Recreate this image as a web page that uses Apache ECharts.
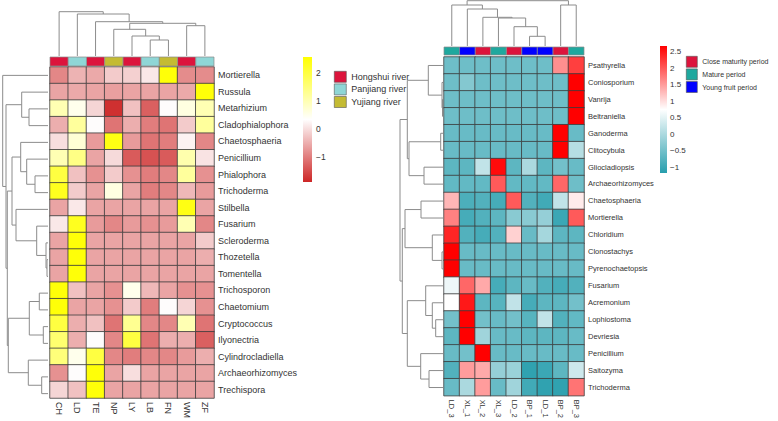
<!DOCTYPE html>
<html><head><meta charset="utf-8">
<script src="https://cdn.jsdelivr.net/npm/echarts@6/dist/echarts.min.js"></script>
<style>html,body{margin:0;padding:0;background:#fff}#c{width:778px;height:421px}</style>
</head><body><div id="c"></div>
<script>
// ---------- LEFT HEATMAP DATA ----------
const leftCols = ['CH','LD','TE','NP','LY','LB','FN','WM','ZF'];
const leftRows = ['Mortierella','Russula','Metarhizium','Cladophialophora','Chaetosphaeria','Penicillium','Phialophora','Trichoderma','Stilbella','Fusarium','Scleroderma','Thozetella','Tomentella','Trichosporon','Chaetomium','Cryptococcus','Ilyonectria','Cylindrocladiella','Archaeorhizomyces','Trechispora'];
const leftGroupNames = ['Hongshui river','Panjiang river','Yujiang river'];
const leftGroupColors = ['#DC143C','#8FD6D6','#C4BB33'];
const leftColGroups = ['Hongshui river','Panjiang river','Hongshui river','Yujiang river','Hongshui river','Panjiang river','Yujiang river','Hongshui river','Panjiang river'];
const leftValues = [
  [-0.9,-0.45,-0.55,-0.2,-0.15,0.1,2.5,-0.85,-0.85],
  [-0.6,-0.55,-0.6,-0.65,-0.6,-0.6,-0.6,-0.55,2.5],
  [1.0,0.5,-0.1,-1.8,-0.3,-1.3,0.3,0.6,1.0],
  [-0.5,1.2,0.3,-1.1,-0.5,-1.0,-1.1,-0.2,1.2],
  [0.0,0.7,-0.7,2.4,-0.7,-1.1,-1.0,0.2,-0.9],
  [1.0,1.4,-0.6,-0.05,-1.35,-1.45,-1.35,1.05,0.05],
  [2.0,-0.3,-0.8,-0.2,-0.8,-1.0,-0.9,1.2,-0.8],
  [2.3,-0.2,-0.6,0.6,-0.6,-1.0,-0.9,-0.4,-0.7],
  [-0.6,0.1,-0.6,-0.6,-0.6,-0.6,-0.6,2.4,-0.6],
  [0.1,2.3,-0.7,-0.9,-0.7,-0.8,-0.7,1.0,-0.9],
  [-0.6,2.5,-0.6,-0.6,-0.6,-0.6,-0.6,-0.6,-0.2],
  [-0.6,2.5,-0.6,-0.6,-0.6,-0.6,-0.6,-0.6,-0.5],
  [-0.6,2.5,-0.6,-0.6,-0.6,-0.6,-0.6,-0.6,-0.6],
  [2.5,-0.3,-0.6,-0.8,0.5,-0.4,-0.6,-0.8,-0.8],
  [2.5,-0.6,-0.6,-0.8,-0.2,-1.0,0.3,-0.1,-0.8],
  [2.0,-0.5,-0.3,-1.1,1.3,-0.9,-0.9,1.0,-1.1],
  [1.6,-0.5,0.3,-0.9,2.0,-1.1,-0.5,-0.5,-1.3],
  [1.5,0.5,2.0,-0.9,-1.0,-0.9,-0.9,-0.7,-0.5],
  [-0.8,0.3,2.5,-0.6,0.0,-0.6,-0.6,-0.6,-0.6],
  [-0.1,-0.3,2.5,-0.6,-0.6,-0.6,-0.6,-0.6,-0.6]
];
const leftRange = [-1.9, 2.57];
const leftScale = ['#CD2626','#FFFFFF','#FFFF00'];
const leftTicks = [-1, 0, 1, 2];
// merges: negative = leaf -(index+1), positive = earlier merge (1-based); [a, b, height]
const leftColMerges = [[-6,-7,16],[-5,1,20],[-4,2,26.7],[-8,-9,30.3],[3,4,32.7],[-3,5,34.3],[-2,6,42],[-1,7,44.3]];
const leftRowMerges = [[-3,-4,19],[-2,1,26.3],[-7,-8,13],[-6,3,21.3],[-5,4,27.3],[-12,-13,1],[-11,6,2],[-10,7,11.3],[-9,8,32],[5,9,36],[-14,-15,8.7],[-16,-17,4.7],[11,12,18.7],[-19,-20,6.3],[-18,14,19.7],[13,15,39.7],[10,16,40.7],[2,17,42],[-1,18,45.3]];

// ---------- RIGHT HEATMAP DATA ----------
const rightCols = ['LD_3','XL_1','XL_2','XL_3','LD_2','BP_1','LD_1','BP_2','BP_3'];
const rightRows = ['Psathyrella','Coniosporium','Vanrija','Beltraniella','Ganoderma','Clitocybula','Gliocladiopsis','Archaeorhizomyces','Chaetosphaeria','Mortierella','Chloridium','Clonostachys','Pyrenochaetopsis','Fusarium','Acremonium','Lophiostoma','Devriesia','Penicillium','Saitozyma','Trichoderma'];
const rightGroupNames = ['Close maturity period','Mature period','Young fruit period'];
const rightGroupColors = ['#DC143C','#1FA89E','#0000FF'];
const rightColGroups = ['Mature period','Young fruit period','Close maturity period','Mature period','Close maturity period','Young fruit period','Young fruit period','Close maturity period','Mature period'];
const rightValues = [
  [-0.55,-0.55,-0.55,-0.55,-0.55,-0.55,-0.55,1.6,2.2],
  [-0.55,-0.35,-0.55,-0.55,-0.55,-0.55,-0.55,-0.55,2.68],
  [-0.55,-0.55,-0.55,-0.55,-0.55,-0.55,-0.55,-0.55,2.68],
  [-0.55,-0.55,-0.55,-0.55,-0.55,-0.55,-0.55,-0.55,2.68],
  [-0.6,-0.6,-0.6,-0.6,-0.6,-0.6,-0.6,2.68,-0.6],
  [-0.6,-0.6,-0.6,-0.6,-0.6,-0.6,-0.6,2.68,0.1],
  [-0.7,-0.7,0.2,2.6,-0.7,0.0,-0.7,-0.5,-0.6],
  [-0.65,-0.65,-0.65,2.0,-0.65,-0.65,-0.65,1.9,-0.55],
  [1.3,-0.85,-0.8,-0.9,2.0,-0.8,-0.95,0.2,0.9],
  [1.7,-0.9,-0.8,-0.7,-0.3,-0.3,-0.2,-1.0,2.0],
  [2.4,-0.8,-0.9,-0.8,1.1,-0.6,-0.05,-0.7,-0.7],
  [2.68,-0.6,-0.6,-0.6,-0.6,-0.6,-0.6,-0.6,-0.6],
  [2.68,-0.6,-0.6,-0.6,-0.6,-0.6,-0.6,-0.6,-0.6],
  [0.6,1.9,1.4,-0.9,-0.7,-0.6,-0.8,-0.9,-0.8],
  [0.75,2.5,-0.7,-0.75,0.2,-0.9,-0.7,-0.7,-0.5],
  [-0.5,2.68,-0.5,-0.6,-0.5,-0.75,0.2,-0.8,-0.65],
  [-0.7,2.68,-0.1,-0.6,-0.6,-0.7,-0.7,-0.7,-0.6],
  [-0.6,-0.5,2.68,-0.6,-0.6,-0.6,-0.6,-0.6,-0.6],
  [-0.8,1.5,1.4,-0.2,-0.15,-1.1,-1.0,-0.7,0.3],
  [-0.6,0.0,1.5,-0.6,-0.1,-0.95,-1.1,-1.1,1.8]
];
const rightRange = [-1.18, 2.68];
const rightScale = ['#279EAD','#FFFFFF','#FF0000'];
const rightTicks = [-1, -0.5, 0, 0.5, 1, 1.5, 2, 2.5];
const rightColMerges = [[-6,-7,9.7],[-5,1,19.3],[-4,2,28],[-3,3,28.7],[-2,4,37],[-1,5,41],[-8,-9,41],[6,7,45.3]];
const rightRowMerges = [[-3,-4,0.5],[-2,1,1],[-1,2,14.7],[-5,-6,2.3],[-7,-8,19],[4,5,34],[3,6,35.7],[-12,-13,1],[-11,8,10.7],[-9,-10,22],[10,9,38],[-16,-17,7.3],[-15,12,10.7],[-14,13,17.3],[-19,-20,14],[-18,15,22.3],[14,16,35.7],[11,17,40.7],[7,18,43]];

// ---------- HELPERS ----------
function dendroSegments(merges){
  const pos=[], hgt=[], segs=[];
  const get = id => id<0 ? [(-id-1)+0.5, 0] : [pos[id-1], hgt[id-1]];
  merges.forEach(([a,b,h])=>{
    const A=get(a), B=get(b);
    segs.push([A[0],A[1],B[0],B[1],h]);
    pos.push((A[0]+B[0])/2); hgt.push(h);
  });
  return segs;
}
const maxH = m => Math.max(...m.map(d=>d[2]));
function heatData(vals){ const out=[]; vals.forEach((r,yi)=>r.forEach((v,xi)=>out.push([xi,yi,v]))); return out; }
const LINE = '#8c8c8c';
function colDendro(params, api){
  const xa=api.value(0), ha=api.value(1), xb=api.value(2), hb=api.value(3), h=api.value(4);
  return {type:'polyline', shape:{points:[api.coord([xa,ha]),api.coord([xa,h]),api.coord([xb,h]),api.coord([xb,hb])]}, style:{stroke:LINE,lineWidth:1,fill:null}};
}
function rowDendro(params, api){
  const ya=api.value(0), ha=api.value(1), yb=api.value(2), hb=api.value(3), h=api.value(4);
  return {type:'polyline', shape:{points:[api.coord([ha,ya]),api.coord([h,ya]),api.coord([h,yb]),api.coord([hb,yb])]}, style:{stroke:LINE,lineWidth:1,fill:null}};
}
function annot(params, api){
  const c=api.coord([api.value(0), api.value(1)]); const s=api.size([1,1]);
  return {type:'rect', shape:{x:c[0]-s[0]/2, y:c[1]-s[1]/2, width:s[0], height:s[1]}, style:{fill:api.visual('color'), stroke:'#8a8a8a', lineWidth:0.7}};
}
function colorBar(colors){
  return function(params, api){
    const cs=params.coordSys;
    return {type:'rect', shape:{x:cs.x,y:cs.y,width:cs.width,height:cs.height},
      style:{fill:new echarts.graphic.LinearGradient(0,1,0,0,[{offset:0,color:colors[0]},{offset:0.5,color:colors[1]},{offset:1,color:colors[2]}])}};
  };
}
const minus = v => (v<0?'\u2212':'') + Math.abs(v);
const FONT = 'Liberation Sans, Arial, sans-serif';
const hide = {show:false};

function block(o){
  const g=o.gi;
  const grids=[
    {left:o.hx, top:o.hy, width:o.hw, height:o.hh},
    {left:o.hx, top:o.ay, width:o.hw, height:o.ah},
    {left:o.hx, top:o.cdBottom-maxH(o.colM), width:o.hw, height:maxH(o.colM)},
    {left:o.rdRight-maxH(o.rowM), top:o.hy, width:maxH(o.rowM), height:o.hh},
    {left:o.bx, top:o.by, width:o.bw, height:o.bh}
  ];
  const xA=[
    {type:'category', gridIndex:g, data:o.cols, axisLine:hide, axisTick:hide, splitLine:hide,
     axisLabel:{rotate:-90, fontSize:o.fs, color:'#333', margin:4, fontFamily:FONT}},
    {type:'category', gridIndex:g+1, data:o.cols, show:false},
    {type:'value', gridIndex:g+2, min:0, max:o.cols.length, show:false},
    {type:'value', gridIndex:g+3, min:0, max:maxH(o.rowM), inverse:true, show:false},
    {type:'category', gridIndex:g+4, data:['c'], show:false}
  ];
  const yA=[
    {type:'category', gridIndex:g, data:o.rows, inverse:true, position:'right', axisLine:hide, axisTick:hide, splitLine:hide,
     axisLabel:{fontSize:o.fs, color:'#333', margin:4, fontFamily:FONT}},
    {type:'category', gridIndex:g+1, data:['g'], show:false},
    {type:'value', gridIndex:g+2, min:0, max:maxH(o.colM), show:false},
    {type:'value', gridIndex:g+3, min:0, max:o.rows.length, inverse:true, show:false},
    {type:'value', gridIndex:g+4, min:o.range[0], max:o.range[1], position:'right', axisLine:hide, axisTick:hide, splitLine:hide,
     axisLabel:{customValues:o.ticks, formatter:minus, fontSize:o.bfs, color:'#333', margin:o.bm, fontFamily:FONT}}
  ];
  const series=[
    {type:'heatmap', xAxisIndex:g, yAxisIndex:g, data:heatData(o.values), itemStyle:{borderColor:'#3c3c3c', borderWidth:0.8}, emphasis:{disabled:true}, silent:true}
  ];
  o.groupNames.forEach((nm,k)=>{
    series.push({type:'custom', name:nm, xAxisIndex:g+1, yAxisIndex:g+1, renderItem:annot, itemStyle:{color:o.groupColors[k]}, silent:true,
      data:o.colGroups.map((gg,i)=>gg===nm?[i,0]:null).filter(d=>d)});
  });
  series.push({type:'custom', xAxisIndex:g+2, yAxisIndex:g+2, renderItem:colDendro, data:dendroSegments(o.colM), silent:true});
  series.push({type:'custom', xAxisIndex:g+3, yAxisIndex:g+3, renderItem:rowDendro, data:dendroSegments(o.rowM), silent:true});
  series.push({type:'custom', xAxisIndex:g+4, yAxisIndex:g+4, renderItem:colorBar(o.scale), data:[[0,0]], silent:true});
  return {grids, xA, yA, series};
}

const L = block({gi:0, cols:leftCols, rows:leftRows, values:leftValues, groupNames:leftGroupNames, groupColors:leftGroupColors, colGroups:leftColGroups,
  colM:leftColMerges, rowM:leftRowMerges, range:leftRange, scale:leftScale, ticks:leftTicks, fs:9, bfs:8.5,
  hx:50, hy:67, hw:164, hh:335, ay:57, ah:9, cdBottom:56, rdRight:48, bx:303, by:57, bw:9, bh:125, bm:4});
const R = block({gi:5, cols:rightCols, rows:rightRows, values:rightValues, groupNames:rightGroupNames, groupColors:rightGroupColors, colGroups:rightColGroups,
  colM:rightColMerges, rowM:rightRowMerges, range:rightRange, scale:rightScale, ticks:rightTicks, fs:7.5, bfs:8,
  hx:444, hy:57, hw:140, hh:339, ay:47, ah:8, cdBottom:46, rdRight:443, bx:660, by:46, bw:7, bh:127, bm:3});

const chart = echarts.init(document.getElementById('c'), null, {renderer:'svg'});
chart.setOption({
  animation:false,
  backgroundColor:'#fff',
  textStyle:{fontFamily:FONT},
  grid:[...L.grids, ...R.grids],
  xAxis:[...L.xA, ...R.xA],
  yAxis:[...L.yA, ...R.yA],
  visualMap:[
    {show:false, seriesIndex:0, dimension:2, min:leftRange[0], max:leftRange[1], inRange:{color:leftScale}},
    {show:false, seriesIndex:L.series.length, dimension:2, min:rightRange[0], max:rightRange[1], inRange:{color:rightScale}}
  ],
  legend:[
    {data:leftGroupNames, orient:'vertical', left:329, top:66, itemWidth:12, itemHeight:11, itemGap:1, icon:'rect', selectedMode:false,
     textStyle:{fontSize:9, color:'#333', fontFamily:FONT}, itemStyle:{borderColor:'#555', borderWidth:0.6}},
    {data:rightGroupNames, orient:'vertical', left:686, top:56, padding:0, itemWidth:11, itemHeight:11, itemGap:1, icon:'rect', selectedMode:false,
     textStyle:{fontSize:7, color:'#333', fontFamily:FONT}, itemStyle:{borderColor:'#555', borderWidth:0.6}}
  ],
  series:[...L.series, ...R.series]
});
</script></body></html>
